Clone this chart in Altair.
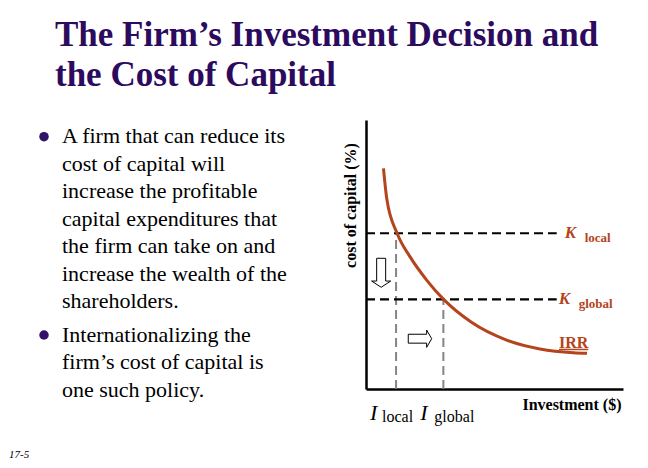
import altair as alt
import pandas as pd

# ---- values ----
# IRR curve: investment (x) vs cost of capital (y), axes 0-100
irr_investment = [6.8, 8.1, 12.1, 17.1, 23.6, 30.2, 40.9, 54.7, 67.7, 80.7, 86.0]
irr_rate = [82.0, 70.6, 57.9, 49.2, 40.5, 33.3, 24.9, 18.2, 14.9, 13.5, 13.3]

cost_names = ["local", "global"]
cost_of_capital = [57.9, 33.3]      # K_local, K_global
investment_level = [11.7, 30.1]     # I_local, I_global
rate_line_end = 74.2

title_lines = ["The Firm\u2019s Investment Decision and", "the Cost of Capital"]
bullet_1 = ["A firm that can reduce its", "cost of capital will", "increase the profitable",
            "capital expenditures that", "the firm can take on and",
            "increase the wealth of the", "shareholders."]
bullet_2 = ["Internationalizing the", "firm\u2019s cost of capital is", "one such policy."]
slide_number = "17-5"

BROWN = "#B4441C"
PURPLE = "#2C0B5E"
SERIF = "Liberation Serif"

curve = pd.DataFrame({"inv": irr_investment, "rate": irr_rate})
costs = pd.DataFrame({"name": cost_names, "rate": cost_of_capital,
                      "inv": investment_level})
costs["zero"] = 0.0
costs["end"] = rate_line_end
one = pd.DataFrame({"k": [0]})

xs = alt.Scale(domain=[0, 100])
ys = alt.Scale(domain=[0, 100])

x_axis = alt.Axis(title="Investment ($)", domain=True, domainColor="black", domainWidth=2.5,
                  ticks=False, labels=False, grid=False, titleFont=SERIF, titleFontSize=16,
                  titleFontWeight="bold", titleColor="black", titleX=255, titleY=20,
                  titleAlign="right", titleBaseline="alphabetic")
y_axis = alt.Axis(title="cost of capital (%)", domain=True, domainColor="black", domainWidth=2.5,
                  ticks=False, labels=False, grid=False, titleFont=SERIF, titleFontSize=16,
                  titleFontWeight="bold", titleColor="black", titleAngle=270, titleX=-8,
                  titleY=85, titleAlign="center", titleBaseline="bottom")

line = alt.Chart(curve).mark_line(color=BROWN, strokeWidth=3, interpolate="monotone").encode(
    x=alt.X("inv:Q", scale=xs, axis=x_axis),
    y=alt.Y("rate:Q", scale=ys, axis=y_axis),
)

vrules = alt.Chart(costs).mark_rule(color="#858585", strokeWidth=2, strokeDash=[9, 5]).encode(
    x=alt.X("inv:Q", scale=xs, axis=x_axis),
    y=alt.Y("zero:Q", scale=ys, axis=y_axis),
    y2="rate:Q",
)
hrules = alt.Chart(costs).mark_rule(color="black", strokeWidth=2.2, strokeDash=[9, 5]).encode(
    x=alt.X("zero:Q", scale=xs, axis=x_axis),
    x2="end:Q",
    y=alt.Y("rate:Q", scale=ys, axis=y_axis),
)

down_arrow = "M -0.31 -1 L 0.31 -1 L 0.31 0.57 L 0.66 0.57 L 0 1 L -0.66 0.57 L -0.31 0.57 Z"
right_arrow = "M -1 -0.38 L 0.57 -0.38 L 0.57 -0.74 L 1 0 L 0.57 0.74 L 0.57 0.38 L -1 0.38 Z"

arrow_down = alt.Chart(one).mark_point(shape=down_arrow, size=841, filled=True, fill="white",
                                       stroke="black", strokeWidth=1, opacity=1).encode(
    x=alt.datum(5.9, scale=xs, axis=x_axis), y=alt.datum(43.2, scale=ys, axis=y_axis))
arrow_right = alt.Chart(one).mark_point(shape=right_arrow, size=548, filled=True, fill="white",
                                        stroke="black", strokeWidth=1, opacity=1).encode(
    x=alt.datum(21.0, scale=xs, axis=x_axis), y=alt.datum(18.7, scale=ys, axis=y_axis))


def label(text, x, y, **mark):
    style = dict(font=SERIF, align="left", baseline="alphabetic")
    style.update(mark)
    return alt.Chart(one).mark_text(**style).encode(x=x, y=y, text=alt.value(text))


def dx_(v):
    return alt.datum(v, scale=xs, axis=x_axis)


def dy_(v):
    return alt.datum(v, scale=ys, axis=y_axis)


layers = [vrules, hrules, line, arrow_down, arrow_right]

# K labels
k_dx = [8, 2]
for name, rate, dx in zip(cost_names, cost_of_capital, k_dx):
    layers.append(label("K", dx_(rate_line_end), dy_(rate),
                        fontSize=17, fontWeight="bold", fontStyle="italic", color=BROWN,
                        dx=dx, dy=5))
    layers.append(label(name, dx_(rate_line_end), dy_(rate),
                        fontSize=13, fontWeight="bold", color=BROWN, dx=dx + 20, dy=9))

# IRR label + underline
layers.append(label("IRR", dx_(75.1), dy_(15.4),
                    fontSize=16, fontWeight="bold", color=BROWN))
layers.append(alt.Chart(one).mark_rule(color=BROWN, strokeWidth=1.5).encode(
    x=dx_(75.1), x2=alt.datum(86.5), y=dy_(14.7)))

# I labels below the axis
i_dx = [(-26, -14), (-23, -9)]
for name, inv, (dxi, dxs) in zip(cost_names, investment_level, i_dx):
    layers.append(label("I", dx_(inv), alt.value(300),
                        fontSize=22, fontStyle="italic", color="black", dx=dxi))
    layers.append(label(name, dx_(inv), alt.value(302),
                        fontSize=16, color="black", dx=dxs))

# slide title, bullets, footer (outside plot area, in the left/top padding)
layers.append(label(title_lines, alt.value(-311), alt.value(-74), fontSize=35,
                    fontWeight="bold", color=PURPLE, lineHeight=40))
layers.append(label(bullet_1, alt.value(-304), alt.value(23.3), fontSize=22,
                    color="black", lineHeight=27.5))
layers.append(label(bullet_2, alt.value(-304), alt.value(221.7), fontSize=22,
                    color="black", lineHeight=27.5))
for yb in [16.7, 215]:
    layers.append(alt.Chart(one).mark_point(shape="circle", size=90, filled=True,
                                            color="#32136A", opacity=1).encode(
        x=alt.value(-322), y=alt.value(yb)))
layers.append(label(slide_number, alt.value(-357), alt.value(337.5), fontSize=11,
                    fontStyle="italic", color="black"))

chart = alt.layer(*layers).properties(
    width=257, height=269,
    autosize=alt.AutoSizeParams(type="none"),
    padding={"left": 358, "top": 112, "right": 10, "bottom": 70},
    background="white",
).configure_view(stroke=None)

chart.save("out.html", embed_options={"renderer": "svg", "actions": False})
